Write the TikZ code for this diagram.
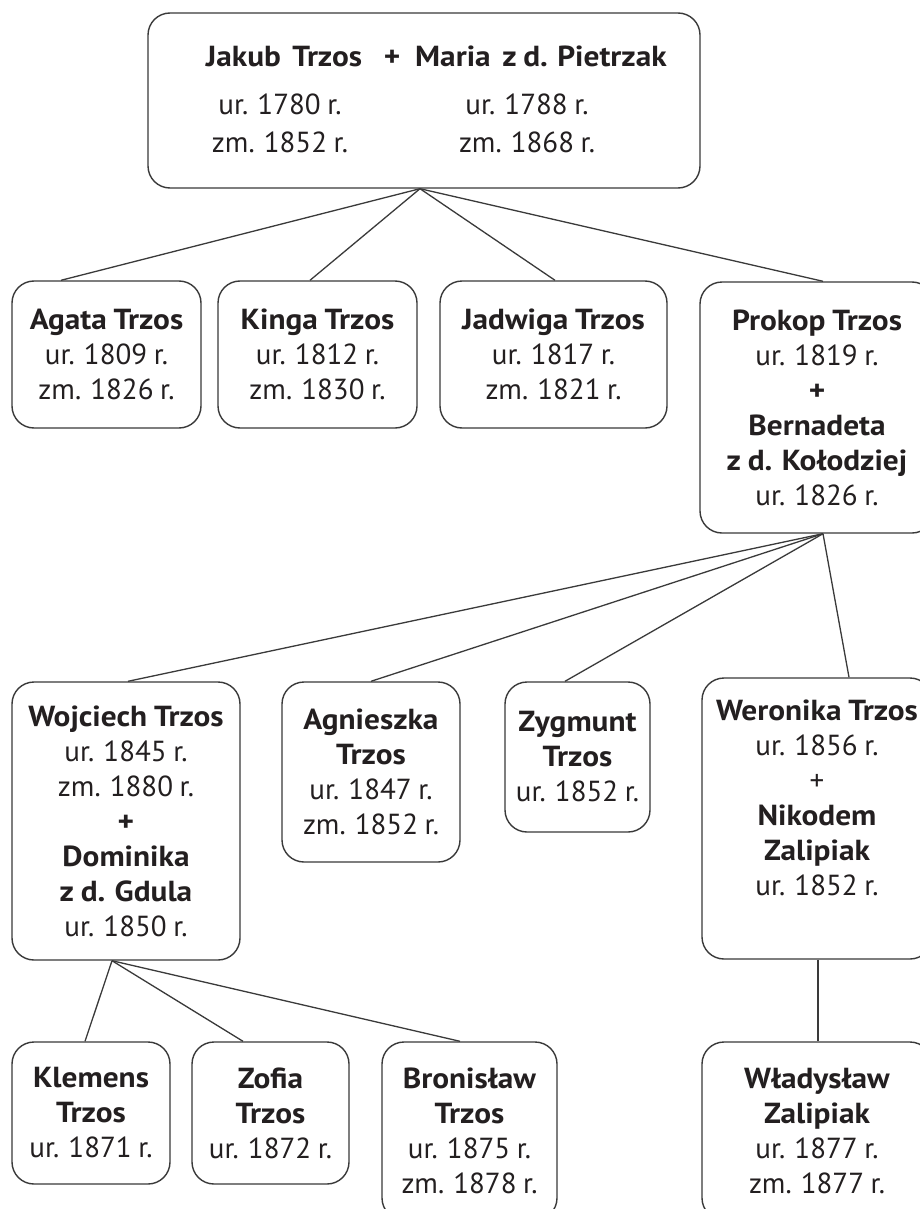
\documentclass[tikz,border=0pt]{standalone}
\usepackage{fontspec}
\setmainfont{PT Sans}[WordSpace=0.85, BoldFeatures={FakeStretch=1.08}]
\definecolor{ink}{HTML}{231F20}
\definecolor{edge}{HTML}{3A3A3A}
\begin{document}
\begin{tikzpicture}[x=1pt,y=-1pt,
  box/.style={draw=edge, line width=1.4pt, rounded corners=22pt, inner sep=0pt, align=center, text=ink, font=\fontsize{29}{35}\selectfont},
  link/.style={draw=edge, line width=1.3pt},
  lbl/.style={anchor=base, inner sep=0pt, text=ink, font=\fontsize{29}{35}\selectfont}]
\useasboundingbox (0,0) rectangle (919,1209);
\fill[white] (0,0) rectangle (919,1209);

% top couple
\node[box, minimum width=552, minimum height=175] (top) at (424,100.5) {};
\node[lbl] (t1) at (284,67) {\textbf{Jakub\, Trzos}};
\node[lbl] (t2) at (392,67) {\textbf{+}};
\node[lbl] (t3) at (541,67) {\textbf{Maria\, z d. Pietrzak}};
\node[lbl] (t4) at (280,115) {ur. 1780 r.};
\node[lbl] (t5) at (527,115) {ur. 1788 r.};
\node[lbl] (t6) at (280,153) {zm. 1852 r.};
\node[lbl] (t7) at (527,153) {zm. 1868 r.};

% second generation
\node[box, minimum width=189, minimum height=147] (agata) at (106.5,354.5)
  {\textbf{Agata Trzos}\\ur. 1809 r.\\zm. 1826 r.};
\node[box, minimum width=199, minimum height=147] (kinga) at (317.5,354.5)
  {\textbf{Kinga Trzos}\\ur. 1812 r.\\zm. 1830 r.};
\node[box, minimum width=227, minimum height=147] (jadwiga) at (553.5,354.5)
  {\textbf{Jadwiga Trzos}\\ur. 1817 r.\\zm. 1821 r.};
\node[box, minimum width=234, minimum height=251] (prokop) at (817,407.5)
  {\textbf{Prokop Trzos}\\ur. 1819 r.\\\textbf{+}\\\textbf{Bernadeta}\\\textbf{z d. Kołodziej}\\ur. 1826 r.};

% third generation
\node[box, minimum width=228, minimum height=278] (wojciech) at (126,821)
  {\textbf{Wojciech Trzos}\\ur. 1845 r.\\zm. 1880 r.\\\textbf{+}\\\textbf{Dominika}\\\textbf{z d. Gdula}\\ur. 1850 r.};
\node[box, minimum width=178, minimum height=180] (agnieszka) at (371,772)
  {\textbf{Agnieszka}\\\textbf{Trzos}\\ur. 1847 r.\\zm. 1852 r.};
\node[box, minimum width=145, minimum height=150] (zygmunt) at (577.5,757)
  {\textbf{Zygmunt}\\\textbf{Trzos}\\ur. 1852 r.};
\node[box, minimum width=230, minimum height=281] (weronika) at (817,818.5)
  {\textbf{Weronika Trzos}\\ur. 1856 r.\\+\\\textbf{Nikodem}\\\textbf{Zalipiak}\\ur. 1852 r.\\[7pt]\mbox{}};

% fourth generation
\node[box, minimum width=158, minimum height=142] (klemens) at (91,1113)
  {\textbf{Klemens}\\\textbf{Trzos}\\ur. 1871 r.};
\node[box, minimum width=157, minimum height=142] (zofia) at (270.5,1113)
  {\textbf{Zofia}\\\textbf{Trzos}\\ur. 1872 r.};
\node[box, minimum width=175, minimum height=178] (bronislaw) at (469.5,1131)
  {\textbf{Bronisław}\\\textbf{Trzos}\\ur. 1875 r.\\zm. 1878 r.};
\node[box, minimum width=230, minimum height=178] (wladyslaw) at (817,1131)
  {\textbf{Władysław}\\\textbf{Zalipiak}\\ur. 1877 r.\\zm. 1877 r.};

% connectors
\draw[link] ([xshift=-4pt]top.south) -- ([xshift=-45.5pt]agata.north);
\draw[link] ([xshift=-4pt]top.south) -- ([xshift=-7.5pt]kinga.north);
\draw[link] ([xshift=-4pt]top.south) -- ([xshift=1.5pt]jadwiga.north);
\draw[link] ([xshift=-4pt]top.south) -- ([xshift=6pt]prokop.north);

\draw[link] ([xshift=6pt]prokop.south) -- ([xshift=2pt]wojciech.north);
\draw[link] ([xshift=6pt]prokop.south) -- (agnieszka.north);
\draw[link] ([xshift=6pt]prokop.south) -- ([xshift=-12.5pt]zygmunt.north);
\draw[link] ([xshift=6pt]prokop.south) -- ([xshift=32pt]weronika.north);

\draw[link] ([xshift=-14pt]wojciech.south) -- ([xshift=-6pt]klemens.north);
\draw[link] ([xshift=-14pt]wojciech.south) -- ([xshift=-27.5pt]zofia.north);
\draw[link] ([xshift=-14pt]wojciech.south) -- ([xshift=-9.5pt]bronislaw.north);
\draw[link] ([xshift=1pt]weronika.south) -- ([xshift=1pt]wladyslaw.north);
\end{tikzpicture}
\end{document}
